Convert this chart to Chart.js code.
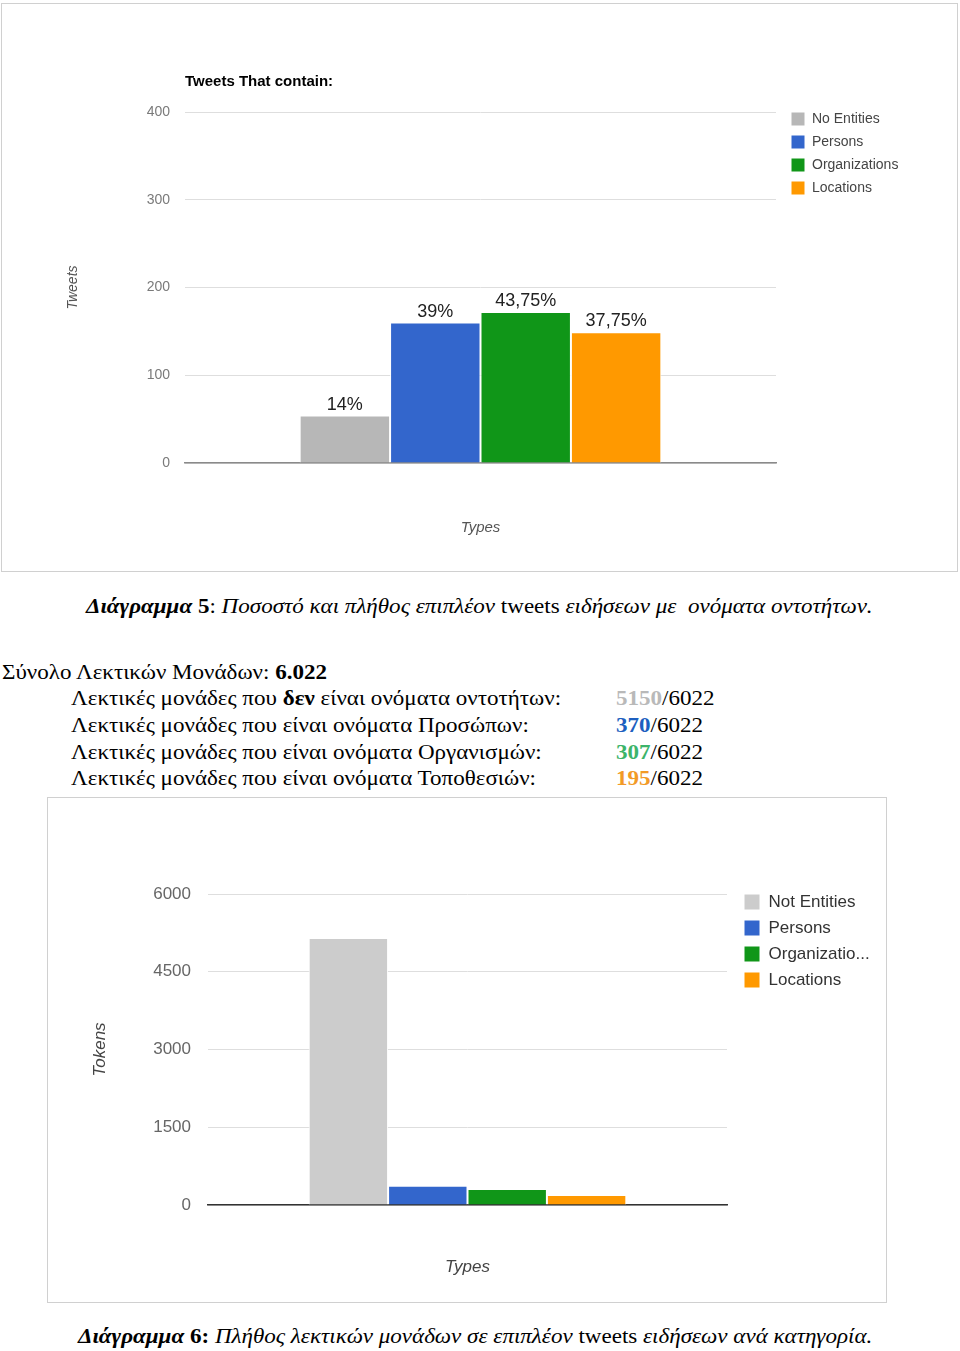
<!DOCTYPE html>
<html lang="el">
<head>
<meta charset="UTF-8">
<title>Διάγραμμα 5 και 6</title>
<script src="https://cdn.jsdelivr.net/npm/chart.js"></script>
<style>
  body { margin: 0; background: #fff; width: 960px; height: 1351px; position: relative; overflow: hidden;
         font-family: "Liberation Serif", "Times New Roman", serif; color: #000; }
  .frame { position: absolute; box-sizing: border-box; border: 1px solid #d0d0d0; }
  canvas { position: absolute; }
  .line { position: absolute; white-space: nowrap; font-size: 21px; line-height: 26px;
          transform: scaleX(1.097); transform-origin: left top; }
  .line i { font-style: italic; }
</style>
</head>
<body>

<div class="frame" style="left:1px; top:3px; width:957px; height:569px;"></div>
<canvas id="tweetsChart" width="960" height="575" style="left:0; top:0;"></canvas>

<div class="line" style="left:86px; top:593px;">
  <b><i>Διάγραμμα</i> 5</b>: <i>Ποσοστό και πλήθος επιπλέον</i> tweets <i>ειδήσεων με&nbsp; ονόματα οντοτήτων.</i>
</div>

<div class="line" style="left:2px; top:659px;">Σύνολο Λεκτικών Μονάδων: <b id="totalText"></b></div>
<div id="tokenLines"></div>

<div class="frame" style="left:47px; top:797px; width:840px; height:506px;"></div>
<canvas id="tokensChart" width="838" height="504" style="left:48px; top:798px;"></canvas>

<div class="line" style="left:78px; top:1323px;">
  <b><i>Διάγραμμα</i> 6:</b> <i>Πλήθος λεκτικών μονάδων σε επιπλέον</i> tweets <i>ειδήσεων ανά κατηγορία.</i>
</div>

<script>
// chart 5: tweets that contain entities
const tweetTypes = ['No Entities', 'Persons', 'Organizations', 'Locations'];
const tweetCounts = [54, 160, 172, 149];
const tweetShares = ['14%', '39%', '43,75%', '37,75%'];

// chart 6: tokens per category
const tokenTypes = ['Not Entities', 'Persons', 'Organizatio...', 'Locations'];
const tokenCounts = [5150, 370, 307, 195];
const tokenTotal = 6022;
const tokenDescriptions = [
  'Λεκτικές μονάδες που <b>δεν</b> είναι ονόματα οντοτήτων:',
  'Λεκτικές μονάδες που είναι ονόματα Προσώπων:',
  'Λεκτικές μονάδες που είναι ονόματα Οργανισμών:',
  'Λεκτικές μονάδες που είναι ονόματα Τοποθεσιών:'
];

const colors5 = ['#b7b7b7', '#3366cc', '#109618', '#ff9900'];
const colors6 = ['#cccccc', '#3366cc', '#109618', '#ff9900'];
const textColors = ['#b9b9b9', '#1d5fc0', '#3cb46a', '#f29a26'];

const SANS = "'Liberation Sans', Arial, sans-serif";

// text block between the charts
document.getElementById('totalText').textContent = (tokenTotal / 1000).toFixed(3);
const holder = document.getElementById('tokenLines');
const lineTops = [685, 712, 739, 765];
tokenDescriptions.forEach((d, i) => {
  const row = document.createElement('div');
  row.className = 'line';
  row.style.left = '71px';
  row.style.top = lineTops[i] + 'px';
  row.innerHTML = d;
  holder.appendChild(row);
  const val = document.createElement('div');
  val.className = 'line';
  val.style.left = '616px';
  val.style.top = lineTops[i] + 'px';
  val.innerHTML = `<b style="color:${textColors[i]}">${tokenCounts[i]}</b>/${tokenTotal}`;
  holder.appendChild(val);
});

// percentage labels above the bars
const barLabels = {
  id: 'barLabels',
  afterDatasetsDraw(chart, args, opts) {
    if (!opts.texts) return;
    const ctx = chart.ctx;
    ctx.save();
    ctx.font = opts.font;
    ctx.fillStyle = opts.color;
    ctx.textAlign = 'center';
    ctx.textBaseline = 'bottom';
    chart.data.datasets.forEach((ds, i) => {
      const bar = chart.getDatasetMeta(i).data[0];
      ctx.fillText(opts.texts[i], bar.x, bar.y - 2);
    });
    ctx.restore();
  }
};

// move the legend box next to the plot like google charts does
const legendSpot = {
  id: 'legendSpot',
  afterLayout(chart, args, opts) {
    const lg = chart.legend;
    const pad = lg.options.labels.padding;
    lg.left = opts.x - pad;
    lg.top = opts.y - pad;
    lg.right = chart.width;
    lg.width = lg.right - lg.left;
  }
};

function makeDatasets(names, values, colors) {
  return names.map((n, i) => ({
    label: n,
    data: [values[i]],
    backgroundColor: colors[i],
    borderColor: '#ffffff',
    borderWidth: 1,
    categoryPercentage: 0.612,
    barPercentage: 1
  }));
}

new Chart(document.getElementById('tweetsChart'), {
  type: 'bar',
  data: { labels: [''], datasets: makeDatasets(tweetTypes, tweetCounts, colors5) },
  plugins: [barLabels, legendSpot],
  options: {
    responsive: false,
    animation: false,
    layout: { padding: { left: 50, right: 144, top: 0, bottom: 32 } },
    scales: {
      x: {
        z: 1,
        ticks: { display: false },
        grid: { display: false, drawTicks: false },
        border: { display: true, color: '#8a8a8a', width: 1.5 },
        title: { display: true, text: 'Types', color: '#555', font: { family: SANS, size: 15, style: 'italic' }, padding: { top: 0, bottom: 6 } },
        afterFit: s => { s.height = 80; }
      },
      y: {
        min: 0,
        max: 400,
        ticks: { stepSize: 100, padding: 15, color: '#7a7a7a', font: { family: SANS, size: 14 } },
        grid: { color: '#dedede', drawTicks: false },
        border: { display: false },
        title: { display: true, text: 'Tweets', color: '#555', font: { family: SANS, size: 14, style: 'italic' }, padding: { top: 14.6, bottom: 0 } },
        afterFit: s => { s.width = 135; }
      }
    },
    plugins: {
      title: {
        display: true,
        text: 'Tweets That contain:',
        align: 'start',
        fullSize: false,
        color: '#000',
        font: { family: SANS, size: 15, weight: 'bold' },
        padding: { top: 73, bottom: 21 }
      },
      legend: {
        position: 'right',
        align: 'start',
        maxWidth: 40,
        labels: { boxWidth: 14, boxHeight: 14, padding: 9, color: '#444', font: { family: SANS, size: 14 } }
      },
      legendSpot: { x: 791, y: 112 },
      barLabels: { texts: tweetShares, font: '18px ' + SANS, color: '#222' },
      tooltip: { enabled: false }
    }
  }
});

new Chart(document.getElementById('tokensChart'), {
  type: 'bar',
  data: { labels: [''], datasets: makeDatasets(tokenTypes, tokenCounts, colors6) },
  plugins: [legendSpot],
  options: {
    responsive: false,
    animation: false,
    layout: { padding: { left: 30, right: 119, top: 96, bottom: 17 } },
    scales: {
      x: {
        z: 1,
        ticks: { display: false },
        grid: { display: false, drawTicks: false },
        border: { display: true, color: '#333', width: 1.5 },
        title: { display: true, text: 'Types', color: '#444', font: { family: SANS, size: 17, style: 'italic' }, padding: { top: 0, bottom: 7.8 } },
        afterFit: s => { s.height = 80; }
      },
      y: {
        min: 0,
        max: 6000,
        ticks: { stepSize: 1500, padding: 17, color: '#666', font: { family: SANS, size: 17 }, callback: v => String(v) },
        grid: { color: '#dedede', drawTicks: false },
        border: { display: false },
        title: { display: true, text: 'Tokens', color: '#444', font: { family: SANS, size: 17, style: 'italic' }, padding: { top: 11.8, bottom: 0 } },
        afterFit: s => { s.width = 130; }
      }
    },
    plugins: {
      legend: {
        position: 'right',
        align: 'start',
        maxWidth: 40,
        labels: { boxWidth: 16, boxHeight: 16, padding: 9, color: '#333', font: { family: SANS, size: 17 } }
      },
      legendSpot: { x: 696, y: 95.5 },
      tooltip: { enabled: false }
    }
  }
});
</script>
</body>
</html>
